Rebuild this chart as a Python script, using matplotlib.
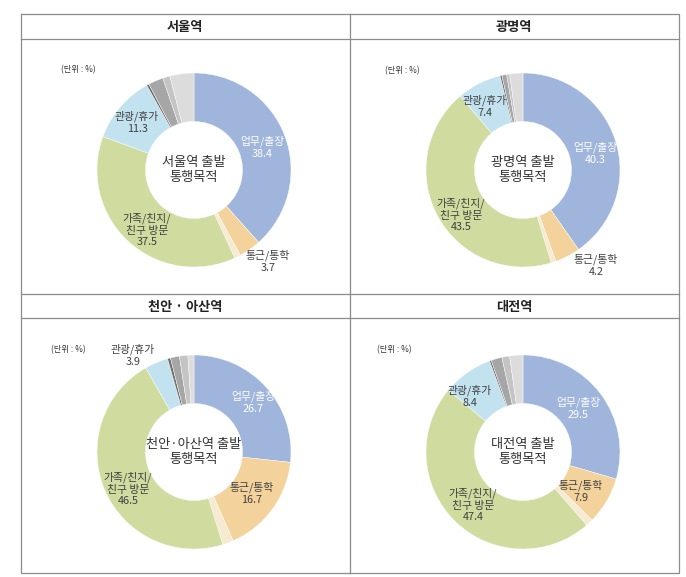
import matplotlib
matplotlib.use("Agg")
import matplotlib.pyplot as plt

plt.rcParams['font.family'] = ['Noto Sans CJK KR', 'DejaVu Sans']

# ---- data ----
stations = ["서울역", "광명역", "천안 · 아산역", "대전역"]
center_titles = ["서울역 출발\n통행목적", "광명역 출발\n통행목적",
                 "천안·아산역 출발\n통행목적", "대전역 출발\n통행목적"]
categories = ["업무/출장", "통근/통학", "기타1", "가족/친지/\n친구 방문", "관광/휴가",
              "기타2", "기타3", "기타4", "기타5"]
seoul = [38.4, 3.7, 1.0, 37.5, 11.3, 0.4, 2.5, 1.2, 4.0]
gwangmyeong = [40.3, 4.2, 0.8, 43.5, 7.4, 0.3, 0.8, 0.5, 2.2]
cheonan_asan = [26.7, 16.7, 1.8, 46.5, 3.9, 0.5, 1.5, 1.4, 1.0]
daejeon = [29.5, 7.9, 1.2, 47.4, 8.4, 0.3, 1.8, 1.3, 2.2]
series = [seoul, gwangmyeong, cheonan_asan, daejeon]
labeled = [0, 1, 3, 4]  # categories that carry a label
unit_label = "(단위 : %)"

# ---- style / layout ----
colors = ["#9fb5db", "#f3d39b", "#f6ead0", "#cfdb9f", "#c3e2ef",
          "#6f6f6f", "#a6a6a6", "#c4c4c4", "#dcdcdc"]
W, H = 686, 577
centers = [(194, 170), (523, 170), (194, 452), (523, 452)]
R = 97
title_pos = [(185, 27), (514, 27), (185, 307), (514, 307)]
unit_pos = [(61, 70), (385, 71), (51, 350), (377, 350)]
label_pos = [
    [(262, 147), (268, 261), (147, 230), (137, 122)],
    [(595, 153), (596, 265), (461, 215), (485, 106)],
    [(253, 402), (252, 493), (128, 489), (133, 355)],
    [(578, 408), (581, 491), (473, 505), (470, 396)],
]
label_colors = ["white", "#404040", "#404040", "#404040"]

fig = plt.figure(figsize=(W / 100, H / 100), dpi=100)

for i, vals in enumerate(series):
    cx, cy = centers[i]
    ax = fig.add_axes([(cx - R) / W, 1 - (cy + R) / H, 2 * R / W, 2 * R / H])
    ax.pie(vals, colors=colors, startangle=90, counterclock=False,
           radius=1.0, wedgeprops=dict(width=0.5, linewidth=0.3, edgecolor="white"))
    ax.set_xlim(-1, 1)
    ax.set_ylim(-1, 1)
    ax.set_aspect("auto")
    ax.axis("off")

ov = fig.add_axes([0, 0, 1, 1])
ov.set_xlim(0, W)
ov.set_ylim(H, 0)
ov.axis("off")
ov.patch.set_alpha(0)

lc = "#8c8c8c"
lw = 0.9
# outer box and grid
ov.plot([21, 679, 679, 21, 21], [14, 14, 573, 573, 14], color=lc, lw=lw)
ov.plot([350, 350], [14, 573], color=lc, lw=lw)
for y in (39, 294, 318):
    ov.plot([21, 679], [y, y], color=lc, lw=lw)

for i, vals in enumerate(series):
    tx, ty = title_pos[i]
    ov.text(tx, ty, stations[i], ha="center", va="center", fontsize=9.5,
            fontweight="bold", color="#222222")
    ux, uy = unit_pos[i]
    ov.text(ux, uy, unit_label, ha="left", va="center", fontsize=6, color="#333333")
    cx, cy = centers[i]
    ov.text(cx, cy, center_titles[i], ha="center", va="center", fontsize=9.5,
            color="#333333", linespacing=1.15)
    for k, ci in enumerate(labeled):
        lx, ly = label_pos[i][k]
        ov.text(lx, ly, f"{categories[ci]}\n{vals[ci]}", ha="center", va="center",
                fontsize=7.8, color=label_colors[k], linespacing=1.2)

fig.savefig("out.png", dpi=100, facecolor="white")
